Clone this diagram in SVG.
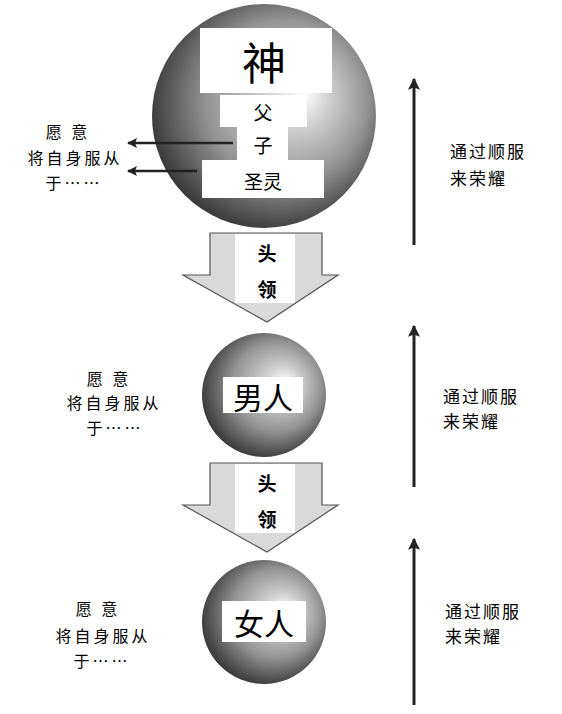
<svg xmlns="http://www.w3.org/2000/svg" width="562" height="714" viewBox="0 0 562 714">
<defs>
<radialGradient id="sph" cx="0.55" cy="0.45" r="0.6" fx="0.68" fy="0.4">
<stop offset="0" stop-color="#ffffff"/>
<stop offset="0.25" stop-color="#cdcdcd"/>
<stop offset="0.6" stop-color="#939393"/>
<stop offset="1" stop-color="#2e2e2e"/>
</radialGradient>
<marker id="ah" viewBox="0 0 10 10" refX="9" refY="5" markerWidth="4" markerHeight="4" orient="auto-start-reverse" markerUnits="strokeWidth">
<path d="M0,0 L10,5 L0,10 L2,5 Z" fill="#222"/>
</marker>
<marker id="ahs" viewBox="0 0 10 10" refX="9" refY="5" markerWidth="5" markerHeight="4" orient="auto" markerUnits="strokeWidth">
<path d="M0,0 L10,5 L0,10 L2,5 Z" fill="#222"/>
</marker>
</defs>
<style>
.cjk{font-family:"Noto Sans CJK SC","Noto Sans",sans-serif;fill:#000}
.big{font-size:44px}
.mid{font-size:30px}
.sm{font-size:19px}
.lbl{font-size:16px;letter-spacing:3px}
.rt{font-size:17px;letter-spacing:2px}
.hd{font-size:19px;font-weight:bold}
.box{fill:#fff}
.ln{stroke:#222;fill:none}
.blk{fill:#d9d9d9;stroke:#555;stroke-width:1.2}
</style>
<rect width="562" height="714" fill="#fff"/>

<g id="node-god">
<circle cx="264" cy="116" r="112" fill="url(#sph)"/>
<rect class="box" x="200" y="28" width="132" height="65"/>
<rect class="box" x="220" y="95" width="87" height="32"/>
<rect class="box" x="237" y="126" width="51" height="35"/>
<rect class="box" x="202" y="160" width="122" height="38"/>
<text class="cjk big" x="264" y="61" text-anchor="middle" dominant-baseline="central">神</text>
<text class="cjk sm" x="263" y="111" text-anchor="middle" dominant-baseline="central">父</text>
<text class="cjk sm" x="263" y="144" text-anchor="middle" dominant-baseline="central">子</text>
<text class="cjk sm" x="263" y="180" text-anchor="middle" dominant-baseline="central">圣灵</text>
</g>

<g id="node-man">
<circle cx="264" cy="395" r="62" fill="url(#sph)"/>
<rect class="box" x="223" y="377" width="80" height="36"/>
<text class="cjk mid" x="263" y="396" text-anchor="middle" dominant-baseline="central">男人</text>
</g>

<g id="node-woman">
<circle cx="264" cy="622" r="62" fill="url(#sph)"/>
<rect class="box" x="222" y="601" width="84" height="41"/>
<text class="cjk mid" x="264" y="622" text-anchor="middle" dominant-baseline="central">女人</text>
</g>

<g id="connectors">
<g id="head-arrow-1">
<polygon class="blk" points="210,233 322,233 322,275 338,275 267,322 183,275 210,275"/>
<rect x="235" y="234" width="60" height="69" fill="#fff"/>
<text class="cjk hd" x="267" y="252" text-anchor="middle" dominant-baseline="central">头</text>
<text class="cjk hd" x="267" y="288" text-anchor="middle" dominant-baseline="central">领</text>
</g>
<g id="head-arrow-2">
<polygon class="blk" points="210,463 322,463 322,505 338,505 267,552 183,505 210,505"/>
<rect x="235" y="464" width="60" height="69" fill="#fff"/>
<text class="cjk hd" x="267" y="482" text-anchor="middle" dominant-baseline="central">头</text>
<text class="cjk hd" x="267" y="518" text-anchor="middle" dominant-baseline="central">领</text>
</g>
<line class="ln" x1="233" y1="143" x2="128" y2="143" stroke-width="2.5" marker-end="url(#ahs)"/>
<line class="ln" x1="197" y1="171" x2="128" y2="171" stroke-width="2.5" marker-end="url(#ahs)"/>
<line class="ln" x1="414" y1="245" x2="414" y2="79" stroke-width="3" marker-end="url(#ah)"/>
<line class="ln" x1="414" y1="487" x2="414" y2="326" stroke-width="3" marker-end="url(#ah)"/>
<line class="ln" x1="414" y1="705" x2="414" y2="539" stroke-width="3" marker-end="url(#ah)"/>
</g>

<g id="label-left-1">
<text class="cjk lbl" x="68" y="131" text-anchor="middle" dominant-baseline="central">愿 意</text>
<text class="cjk lbl" x="75" y="157" text-anchor="middle" dominant-baseline="central">将自身服从</text>
<text class="cjk lbl" x="74" y="182" text-anchor="middle" dominant-baseline="central">于……</text>
</g>
<g id="label-left-2">
<text class="cjk lbl" x="109" y="378" text-anchor="middle" dominant-baseline="central">愿 意</text>
<text class="cjk lbl" x="114" y="402" text-anchor="middle" dominant-baseline="central">将自身服从</text>
<text class="cjk lbl" x="115" y="427" text-anchor="middle" dominant-baseline="central">于……</text>
</g>
<g id="label-left-3">
<text class="cjk lbl" x="98" y="608" text-anchor="middle" dominant-baseline="central">愿 意</text>
<text class="cjk lbl" x="103" y="635" text-anchor="middle" dominant-baseline="central">将自身服从</text>
<text class="cjk lbl" x="102" y="660" text-anchor="middle" dominant-baseline="central">于……</text>
</g>

<g id="label-right-1">
<text class="cjk rt" x="450" y="150" dominant-baseline="central">通过顺服</text>
<text class="cjk rt" x="450" y="177" dominant-baseline="central">来荣耀</text>
</g>
<g id="label-right-2">
<text class="cjk rt" x="443" y="395" dominant-baseline="central">通过顺服</text>
<text class="cjk rt" x="443" y="420" dominant-baseline="central">来荣耀</text>
</g>
<g id="label-right-3">
<text class="cjk rt" x="445" y="610" dominant-baseline="central">通过顺服</text>
<text class="cjk rt" x="445" y="635" dominant-baseline="central">来荣耀</text>
</g>
</svg>
